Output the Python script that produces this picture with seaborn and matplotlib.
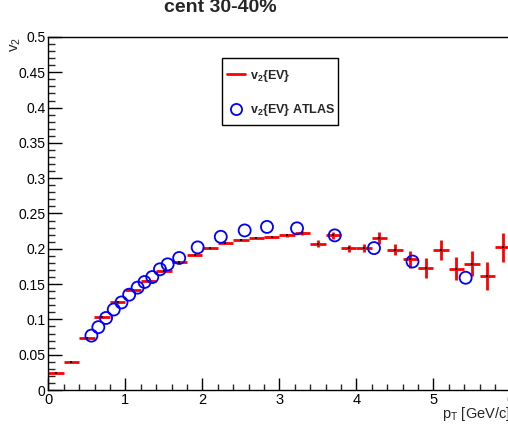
import numpy as np
import pandas as pd
import matplotlib
matplotlib.use("Agg")
import matplotlib.pyplot as plt
from matplotlib.lines import Line2D
from matplotlib.patches import Rectangle
from matplotlib.ticker import MultipleLocator, FuncFormatter
import seaborn as sns

# v2{EV} in pT bins of 0.2 GeV/c
bin_lo = [0.0, 0.2, 0.4, 0.6, 0.8, 1.0, 1.2, 1.4, 1.6, 1.8,
          2.0, 2.2, 2.4, 2.6, 2.8, 3.0, 3.2, 3.4, 3.6, 3.8,
          4.0, 4.2, 4.4, 4.6, 4.8, 5.0, 5.2, 5.4, 5.6, 5.8]
bin_hi = [0.2, 0.4, 0.6, 0.8, 1.0, 1.2, 1.4, 1.6, 1.8, 2.0,
          2.2, 2.4, 2.6, 2.8, 3.0, 3.2, 3.4, 3.6, 3.8, 4.0,
          4.2, 4.4, 4.6, 4.8, 5.0, 5.2, 5.4, 5.6, 5.8, 6.0]
v2_ev = [0.024, 0.039, 0.073, 0.103, 0.124, 0.141, 0.155, 0.169, 0.181, 0.191,
         0.201, 0.208, 0.213, 0.216, 0.217, 0.219, 0.222, 0.207, 0.219, 0.201,
         0.201, 0.216, 0.199, 0.185, 0.173, 0.198, 0.172, 0.179, 0.162, 0.202]
v2_ev_err = [0.0005, 0.0005, 0.0005, 0.0005, 0.0005, 0.0005, 0.0005, 0.0005, 0.0005, 0.0005,
             0.0007, 0.0008, 0.0009, 0.001, 0.0012, 0.002, 0.003, 0.005, 0.005, 0.005,
             0.006, 0.0085, 0.008, 0.012, 0.014, 0.014, 0.016, 0.018, 0.020, 0.021]

# ATLAS v2{EV}
atlas_pt = [0.56, 0.65, 0.75, 0.85, 0.95, 1.05, 1.16, 1.25, 1.35, 1.45,
            1.55, 1.70, 1.94, 2.24, 2.55, 2.84, 3.23, 3.72, 4.23, 4.73, 5.42]
atlas_v2 = [0.077, 0.089, 0.102, 0.114, 0.124, 0.135, 0.145, 0.153, 0.160, 0.171,
            0.178, 0.187, 0.202, 0.217, 0.226, 0.231, 0.229, 0.219, 0.201, 0.182, 0.159]

y_ticks = [0, 0.05, 0.1, 0.15, 0.2, 0.25, 0.3, 0.35, 0.4, 0.45, 0.5]
x_ticks = [0, 1, 2, 3, 4, 5, 6]

sns.set_style("white")
plt.rcParams["font.family"] = ["Liberation Sans", "DejaVu Sans"]
plt.rcParams["mathtext.fontset"] = "custom"
plt.rcParams["mathtext.rm"] = "Liberation Sans"
plt.rcParams["mathtext.it"] = "Liberation Sans:italic"
plt.rcParams["mathtext.bf"] = "Liberation Sans:bold"

W, H = 508, 430
fig = plt.figure(figsize=(W / 100, H / 100), dpi=100)
fig.patch.set_facecolor("white")
ax_l, ax_r, ax_b, ax_t = 48.3, 510.3, 390.0, 37.0
ax = fig.add_axes([ax_l / W, 1 - ax_b / H, (ax_r - ax_l) / W, (ax_b - ax_t) / H])
ax.set_facecolor("white")

ev = pd.DataFrame({"lo": bin_lo, "hi": bin_hi, "v2": v2_ev, "err": v2_ev_err})
ev["pt"] = (ev["lo"] + ev["hi"]) / 2
ev["xerr"] = (ev["hi"] - ev["lo"]) / 2

ax.errorbar(ev["pt"], ev["v2"], xerr=ev["xerr"], yerr=ev["err"], fmt="none",
            ecolor="#ff0000", elinewidth=2.0, capsize=0, zorder=2)
sns.scatterplot(data=ev, x="pt", y="v2", color="black", s=2, marker="s",
                linewidth=0, ax=ax, zorder=3)

atlas = pd.DataFrame({"pt": atlas_pt, "v2": atlas_v2})
sns.scatterplot(data=atlas, x="pt", y="v2", marker="o", s=75,
                facecolor="none", edgecolor="#0000ff", linewidth=1.3,
                ax=ax, zorder=4)

ax.set_xlim(0, 6)
ax.set_ylim(0, 0.5)
ax.set_xlabel("")
ax.set_ylabel("")
ax.set_xticks(x_ticks)
ax.set_yticks(y_ticks)
ax.xaxis.set_minor_locator(MultipleLocator(0.2))
ax.yaxis.set_minor_locator(MultipleLocator(0.01))
ax.yaxis.set_major_formatter(FuncFormatter(lambda v, p: f"{v:g}"))
ax.xaxis.set_major_formatter(FuncFormatter(lambda v, p: f"{v:g}"))

for s in ax.spines.values():
    s.set_color("black")
    s.set_linewidth(1.0)

ax.tick_params(axis="y", which="major", direction="in", length=10, width=1,
               labelsize=10, pad=2, colors="black", left=True, right=False)
ax.tick_params(axis="y", which="minor", direction="in", length=5, width=1,
               left=True, right=False)
ax.tick_params(axis="x", which="major", direction="in", length=8.5, width=1,
               labelsize=10.5, pad=2, colors="black", bottom=True, top=False)
ax.tick_params(axis="x", which="minor", direction="in", length=4.5, width=1,
               bottom=True, top=False)

fig.text(220 / W, 1 - 8 / H, "cent 30-40%", ha="center", va="center",
         fontsize=14, fontweight="bold")
fig.text(16 / W, 1 - ax_t / H, r"$\mathregular{v_{2}}$", rotation=90,
         ha="center", va="top", fontsize=11)
fig.text(ax_r / W, 1 - 414 / H, r"$\mathregular{p_{T}}$ [GeV/c]",
         ha="right", va="center", fontsize=10.5)

# legend box drawn as a plain rectangle, entries placed inside it
box_l, box_t, box_r, box_b = 222, 58, 338, 125
ax.add_patch(Rectangle((box_l / W, 1 - box_b / H), (box_r - box_l) / W,
                       (box_b - box_t) / H, transform=fig.transFigure,
                       facecolor="white", edgecolor="black", linewidth=1.0,
                       zorder=5, clip_on=False))
handles = [
    Line2D([], [], color="#ff0000", lw=2.0),
    Line2D([], [], color="#0000ff", marker="o", markerfacecolor="none",
           markeredgewidth=1.3, markersize=8, linestyle="none"),
]
labels = [r"$\mathbf{v_{2}}$" + "{EV}", r"$\mathbf{v_{2}}$" + "{EV} ATLAS"]
leg = ax.legend(handles, labels, loc="upper left",
                bbox_to_anchor=(227 / W, 1 - 67.5 / H), bbox_transform=fig.transFigure,
                borderaxespad=0, borderpad=0, frameon=False,
                prop={"weight": "bold", "size": 9},
                handlelength=1.45, handletextpad=0.4, labelspacing=1.5)
leg.set_zorder(6)

fig.savefig("out.png", dpi=100)
